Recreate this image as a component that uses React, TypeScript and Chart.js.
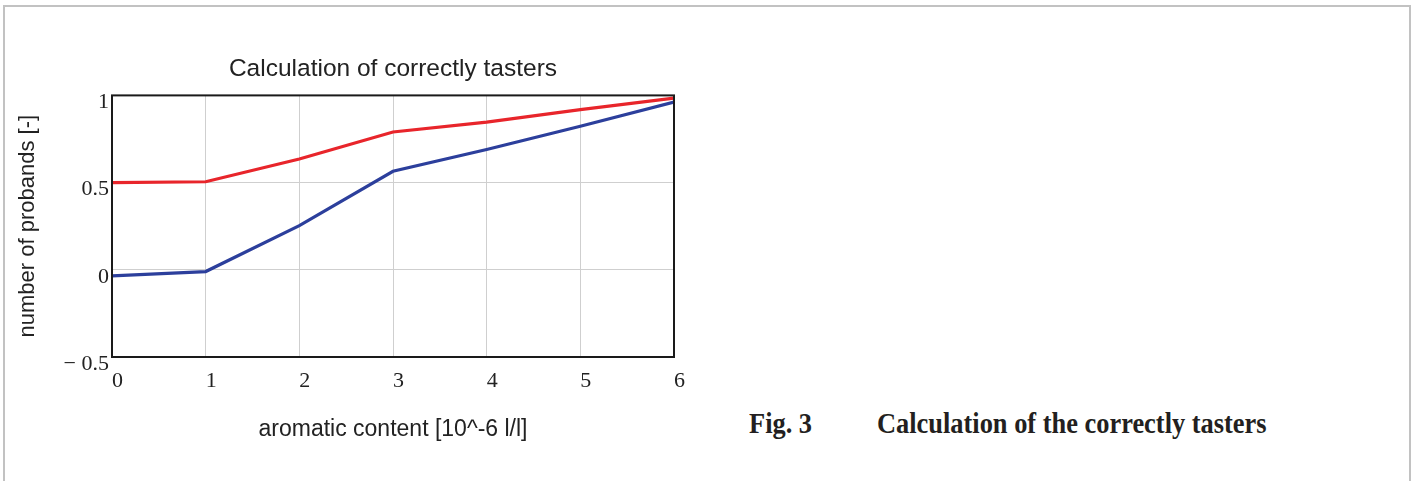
import React, { useEffect, useRef } from "react";
import { Chart, registerables } from "chart.js";

Chart.register(...registerables);

const xValues = [0, 1, 2, 3, 4, 5, 6];
const redSeries = [0.5, 0.505, 0.635, 0.79, 0.847, 0.918, 0.985];
const blueSeries = [-0.035, -0.01, 0.253, 0.565, 0.69, 0.823, 0.962];
const yTickLabels: Record<string, string> = { "1": "1", "0.5": "0.5", "0": "0", "-0.5": "\u2212 0.5" };

const chartTitle = "Calculation of correctly tasters";
const xTitle = "aromatic content [10^-6 l/l]";
const yTitle = "number of probands [-]";
const captionFig = "Fig. 3";
const captionText = "Calculation of the correctly tasters";

const frameBox = {
  id: "frameBox",
  afterDatasetsDraw(chart: any) {
    const { ctx, chartArea } = chart;
    ctx.save();
    ctx.strokeStyle = "#1a1a1a";
    ctx.lineWidth = 2;
    ctx.strokeRect(chartArea.left, chartArea.top, chartArea.right - chartArea.left, chartArea.bottom - chartArea.top);
    ctx.restore();
  },
};

const captionStyle: React.CSSProperties = {
  position: "absolute",
  top: 408,
  fontFamily: "'Liberation Serif', 'Times New Roman', serif",
  fontWeight: "bold",
  fontSize: 30,
  lineHeight: "30px",
  color: "#231f20",
  whiteSpace: "nowrap",
  transform: "scaleX(0.88)",
  transformOrigin: "left top",
};

export default function App() {
  const ref = useRef<HTMLCanvasElement | null>(null);
  useEffect(() => {
    if (!ref.current) return;
    const chart = new Chart(ref.current, {
      type: "line",
      data: {
        datasets: [
          {
            data: xValues.map((x, i) => ({ x, y: redSeries[i] })),
            borderColor: "#e8252b",
            borderWidth: 3.2,
            pointRadius: 0,
            tension: 0,
          },
          {
            data: xValues.map((x, i) => ({ x, y: blueSeries[i] })),
            borderColor: "#2c3f9c",
            borderWidth: 3.2,
            pointRadius: 0,
            tension: 0,
          },
        ],
      },
      options: {
        responsive: false,
        animation: false,
        layout: { padding: { left: 0, right: 26, top: 0, bottom: 34 } },
        plugins: {
          legend: { display: false },
          tooltip: { enabled: false },
          title: {
            display: true,
            text: chartTitle,
            fullSize: false,
            color: "#222",
            font: { family: "Arial, 'Liberation Sans'", size: 24.5, weight: "normal" },
            padding: { top: 55, bottom: 11 },
          },
        },
        scales: {
          x: {
            type: "linear",
            min: 0,
            max: 6,
            ticks: {
              stepSize: 1,
              align: "start",
              padding: 11,
              color: "#222",
              font: { family: "'Liberation Serif', 'Times New Roman', serif", size: 22 },
            },
            grid: { color: "#cfcfcf", lineWidth: 1, drawTicks: false },
            border: { display: false },
            title: {
              display: true,
              text: xTitle,
              color: "#222",
              font: { family: "Arial, 'Liberation Sans'", size: 23 },
              padding: { top: 0, bottom: 4 },
            },
            afterFit: (scale: any) => {
              scale.height = 90;
            },
          },
          y: {
            type: "linear",
            min: -0.5,
            max: 1,
            ticks: {
              stepSize: 0.5,
              padding: 3,
              labelOffset: 7,
              color: "#222",
              font: { family: "'Liberation Serif', 'Times New Roman', serif", size: 22 },
              callback: (v: any) => yTickLabels[String(v)] ?? String(v),
            },
            grid: { color: "#cfcfcf", lineWidth: 1, drawTicks: false },
            border: { display: false },
            title: {
              display: true,
              text: yTitle,
              color: "#222",
              font: { family: "Arial, 'Liberation Sans'", size: 22 },
              padding: { top: 15, bottom: 0 },
            },
            afterFit: (scale: any) => {
              scale.width = 112;
            },
          },
        },
      },
      plugins: [frameBox],
    } as any);
    return () => chart.destroy();
  }, []);

  return (
    <div style={{ position: "absolute", left: 0, top: 0, width: 1413, height: 481, overflow: "hidden", background: "#fff" }}>
      <div
        style={{
          position: "absolute",
          left: 3,
          top: 5,
          width: 1404,
          height: 500,
          borderLeft: "2px solid #c2c2c2",
          borderTop: "2px solid #c2c2c2",
          borderRight: "2px solid #c2c2c2",
        }}
      />
      <canvas ref={ref} width={700} height={481} style={{ position: "absolute", left: 0, top: 0, width: 700, height: 481 }} />
      <div style={{ ...captionStyle, left: 749 }}>{captionFig}</div>
      <div style={{ ...captionStyle, left: 877 }}>{captionText}</div>
    </div>
  );
}
